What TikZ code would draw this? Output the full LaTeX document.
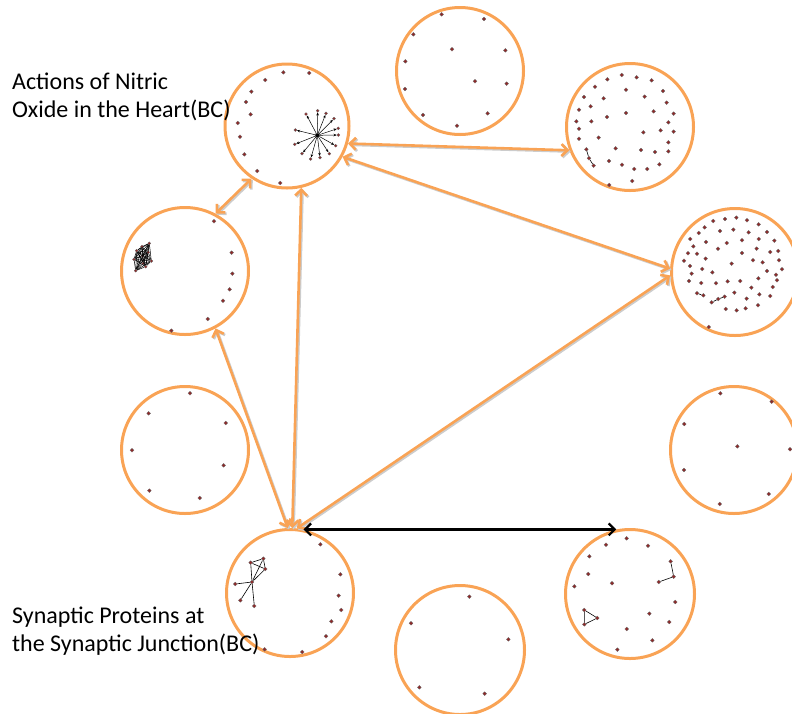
\documentclass[tikz,border=0pt]{standalone}
\usepackage{fontspec}
\setmainfont{Carlito}
\usetikzlibrary{arrows.meta}
\definecolor{ringorange}{HTML}{F9A355}
\definecolor{dotred}{HTML}{902828}
\begin{document}
\begin{tikzpicture}[x=1pt,y=-1pt,
  ring/.style={circle,draw=ringorange,line width=3pt,minimum size=#1,inner sep=0pt},
  ring/.default=127pt,
  dot/.style={circle,fill=dotred,draw=black!60,line width=0.3pt,minimum size=3.8pt,inner sep=0pt},
  link/.style={draw=black,line width=0.6pt},
  spoke/.style={draw=black,line width=0.5pt,-{Stealth[length=3.2pt,width=2.6pt]}},
  barb/.tip={Straight Barb[length=6pt,width=12pt]},
  oarrow/.style={draw=ringorange,line width=2.6pt,barb-barb},
  oshadow/.style={draw=black!20,line width=2.6pt,barb-barb},
  barrow/.style={draw=black,line width=2.2pt,barb-barb},
  lbl/.style={font=\fontsize{24}{29}\selectfont,anchor=base west,inner sep=0pt}]

\useasboundingbox (0,0) rectangle (792,713);

% ---- the ten network circles ----
\node[ring=124pt] (c1) at (287,126) {};
\node[ring] (c2) at (460,71) {};
\node[ring] (c3) at (630,127) {};
\node[ring] (c4) at (735,272) {};
\node[ring] (c5) at (185,271) {};
\node[ring] (c6) at (185,450) {};
\node[ring] (c7) at (734,450) {};
\node[ring] (c8) at (290,593) {};
\node[ring=129pt] (c9) at (630,594) {};
\node[ring=129pt] (c10) at (460,650) {};

% ---- orange links between circles (shadow first) ----
\begin{scope}[transform canvas={shift={(1.3pt,-1.3pt)}}]
  \foreach \a/\b in {c1.-16/c3.-159, c1.-29/c4.177, c1.236/c5.62, c1.-77/c8.88, c5.-62/c8.92, c4.183/c8.84}
    \draw[oshadow] (\a) -- (\b);
\end{scope}
\foreach \a/\b in {c1.-16/c3.-159, c1.-29/c4.177, c1.236/c5.62, c1.-77/c8.88, c5.-62/c8.92, c4.183/c8.84}
  \draw[oarrow] (\a) -- (\b);

% black link
\draw[barrow] (c8.78) -- (c8.78 -| c9.102);

% ---- circle 1: scattered dots and a star ----
\begin{scope}[shift={(220,55)},scale=1/3]
  \foreach \p [count=\i] in {(190,52),(268,54),(136,75),(94,110),(78,141),(92,178),(53,204),(60,245),(73,298),(112,348),(181,384)}
    \node[dot] (a\i) at \p {};
  \node[dot,fill=black,minimum size=4.5pt] (hub) at (292,241) {};
  \foreach \p [count=\i] in {(293,167),(258,177),(318,175),(342,191),(355,220),(355,240),(347,272),(328,296),(300,308),(272,312),(246,296),(224,268),(226,225)}
  {
    \node[dot,minimum size=3pt] (s\i) at \p {};
    \draw[spoke] (hub) -- (s\i);
  }
\end{scope}

% ---- circle 2 ----
\begin{scope}[shift={(390,0)},scale=1/3]
  \foreach \p [count=\i] in {(155,43),(282,57),(70,103),(186,148),(346,151),(46,184),(255,244),(350,251),(45,267),(99,345),(293,340),(201,377)}
    \node[dot] (b\i) at \p {};
\end{scope}

% ---- circle 3 ----
\begin{scope}[shift={(560,50)},scale=1/3]
  \foreach \p [count=\i] in {(185,75),(230,82),(142,88),(275,91),(105,110),(198,119),(309,123),(72,141),(131,145),(254,140),(320,158),(92,169),(57,179),(281,184),(198,189),(341,191),(141,201),(49,214),(94,214),(325,217),(57,236),(302,241),(250,247),(341,245),(57,266),(116,263),(325,277),(167,295),(243,300),(285,306),(325,304),(147,333),(186,344),(298,343),(223,357),(262,357),(217,393),(148,405)}
    \node[dot] (d\i) at \p {};
  \node[dot] (dq1) at (79,298) {};
  \node[dot] (dq2) at (87,325) {};
  \node[dot] (dq3) at (101,347) {};
  \draw[link] (dq1) -- (dq2) -- (dq3);
\end{scope}

% ---- circle 4 ----
\begin{scope}[shift={(660,200)},scale=1/3]
  \foreach \p [count=\i] in {(160,63),(195,57),(229,53),(261,61),(134,82),(296,73),(116,99),(180,93),(220,89),(266,97),(321,96),(91,117),(138,126),(200,129),(246,121),(296,117),(343,122),(100,139),(174,146),(290,146),(84,160),(111,161),(246,159),(331,156),(355,153),(137,176),(72,182),(215,191),(279,181),(308,187),(357,181),(90,198),(127,207),(157,217),(321,213),(366,208),(348,224),(95,221),(295,235),(351,241),(87,243),(124,249),(168,250),(203,244),(241,243),(274,263),(338,261),(223,278),(298,283),(331,288),(260,296),(197,327),(230,331),(257,325),(294,316),(146,381)}
    \node[dot] (e\i) at \p {};
  \node[dot] (ep1) at (111,280) {};
  \node[dot] (ep2) at (130,286) {};
  \node[dot] (eq1) at (155,307) {};
  \node[dot] (eq2) at (175,297) {};
  \node[dot] (eq3) at (194,290) {};
  \draw[link] (ep1) -- (ep2);
  \draw[link] (eq1) -- (eq2) -- (eq3);
\end{scope}

% ---- circle 5: dense clique ----
\begin{scope}[shift={(110,200)},scale=1/3]
  \foreach \p [count=\i] in {(312,64),(365,158),(367,221),(359,268),(339,302),(293,357),(184,392)}
    \node[dot] (f\i) at \p {};
  \foreach \p [count=\i] in {(118,130),(96,140),(80,152),(115,157),(72,178),(97,168),(124,183),(100,190),(107,200),(77,212)}
    \node[dot,minimum size=3pt] (k\i) at \p {};
  \foreach \i in {1,...,9}{
    \pgfmathtruncatemacro\nxt{\i+1}
    \foreach \j in {\nxt,...,10}
      \draw[link,line width=0.5pt] (k\i) -- (k\j);
  }
\end{scope}

% ---- circle 6 ----
\begin{scope}[shift={(110,380)},scale=1/3]
  \foreach \p [count=\i] in {(240,40),(116,100),(347,129),(66,211),(341,256),(118,332),(269,354)}
    \node[dot] (g\i) at \p {};
\end{scope}

% ---- circle 7 ----
\begin{scope}[shift={(660,370)},scale=1/3]
  \foreach \p [count=\i] in {(181,70),(335,95),(73,162),(232,229),(390,238),(72,300),(326,372),(179,402)}
    \node[dot] (h\i) at \p {};
\end{scope}

% ---- circle 8: small connected component ----
\begin{scope}[shift={(220,520)},scale=1/3]
  \foreach \p [count=\i] in {(301,73),(361,163),(356,227),(364,270),(334,304),(318,349),(247,396),(134,388)}
    \node[dot] (m\i) at \p {};
  \node[dot] (n1) at (92,128) {};
  \node[dot] (n2) at (130,116) {};
  \node[dot] (n3) at (136,147) {};
  \node[dot] (n4) at (96,186) {};
  \node[dot] (n5) at (46,192) {};
  \node[dot] (n6) at (61,241) {};
  \node[dot] (n7) at (103,258) {};
  \foreach \u/\v in {n1/n2,n2/n3,n1/n3,n1/n4,n2/n4,n3/n4,n4/n5,n4/n6,n4/n7}
    \draw[link] (\u) -- (\v);
\end{scope}

% ---- circle 9 ----
\begin{scope}[shift={(560,520)},scale=1/3]
  \foreach \p [count=\i] in {(200,55),(138,74),(264,77),(88,109),(85,162),(156,190),(43,199),(346,246),(268,281),(328,306),(200,327),(277,361),(172,389)}
    \node[dot] (p\i) at \p {};
  \node[dot] (q1) at (332,124) {};
  \node[dot] (q2) at (341,170) {};
  \node[dot] (q3) at (296,186) {};
  \node[dot] (t1) at (73,270) {};
  \node[dot] (t2) at (112,294) {};
  \node[dot] (t3) at (73,313) {};
  \draw[link] (q1) -- (q2) -- (q3);
  \draw[link] (t1) -- (t2) -- (t3) -- (t1);
\end{scope}

% ---- circle 10 ----
\begin{scope}[shift={(390,580)},scale=1/3]
  \foreach \p [count=\i] in {(238,50),(63,130),(355,178),(88,322),(284,341)}
    \node[dot] (r\i) at \p {};
\end{scope}

% ---- labels ----
\node[lbl] (noA) at (12,89) {Actions of Nitric};
\node[lbl] (noB) at (12,117) {Oxide in the Heart(BC)};
\node[lbl] (spA) at (12,623) {Synaptic Proteins at};
\node[lbl] (spB) at (12,651) {the Synaptic Junction(BC)};

\end{tikzpicture}
\end{document}
